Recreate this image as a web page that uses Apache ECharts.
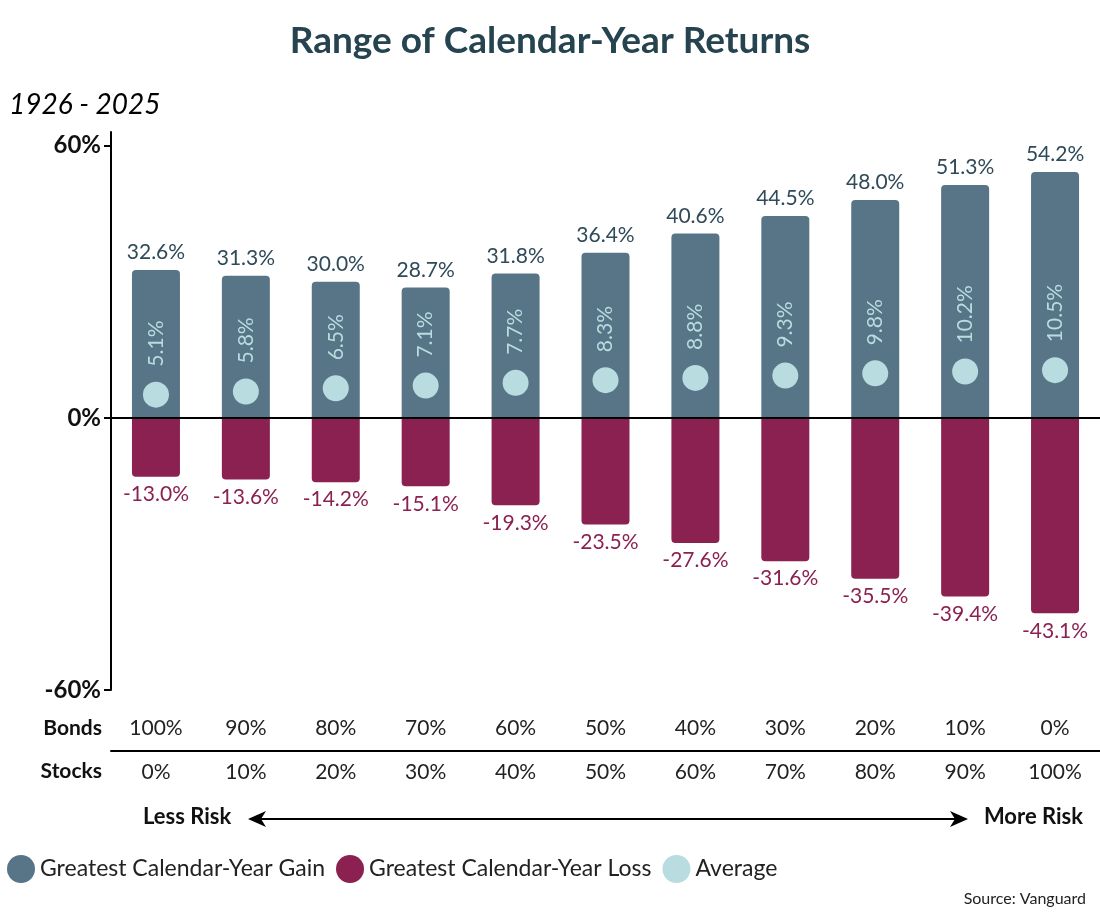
<!DOCTYPE html>
<html>
<head>
<meta charset="utf-8">
<script src="https://cdn.jsdelivr.net/npm/echarts@6/dist/echarts.min.js"></script>
<style>
  html, body { margin: 0; padding: 0; background: #fff; }
  #main { width: 1100px; height: 920px; }
</style>
</head>
<body>
<div id="main"></div>
<script>
const bonds = ['100%', '90%', '80%', '70%', '60%', '50%', '40%', '30%', '20%', '10%', '0%'];
const stocks = ['0%', '10%', '20%', '30%', '40%', '50%', '60%', '70%', '80%', '90%', '100%'];
const gain = [32.6, 31.3, 30.0, 28.7, 31.8, 36.4, 40.6, 44.5, 48.0, 51.3, 54.2];
const loss = [-13.0, -13.6, -14.2, -15.1, -19.3, -23.5, -27.6, -31.6, -35.5, -39.4, -43.1];
const average = [5.1, 5.8, 6.5, 7.1, 7.7, 8.3, 8.8, 9.3, 9.8, 10.2, 10.5];
const yTicks = [-60, 0, 60];

const font = 'Lato';
const gainColor = '#587587';
const lossColor = '#8a2150';
const avgColor = '#b8dce0';

const pct = v => v.toFixed(1) + '%';

let option = {
  backgroundColor: '#fff',
  textStyle: { fontFamily: font },
  title: [
    {
      text: 'Range of Calendar-Year Returns',
      left: 'center',
      top: 18,
      textStyle: { fontFamily: font, fontSize: 37, fontWeight: 'bold', color: '#26444f' }
    },
    {
      text: '1926 - 2025',
      left: 4,
      top: 86,
      textStyle: { fontFamily: font, fontSize: 28, fontStyle: 'italic', fontWeight: 'normal', color: '#000' }
    },
    {
      text: 'Source: Vanguard',
      right: 9,
      bottom: 8,
      textStyle: { fontFamily: font, fontSize: 16, fontWeight: 'normal', color: '#222' }
    }
  ],
  legend: {
    left: 2,
    top: 850,
    icon: 'circle',
    itemWidth: 28,
    itemHeight: 28,
    itemGap: 11,
    textStyle: { fontFamily: font, fontSize: 23, color: '#222' },
    data: ['Greatest Calendar-Year Gain', 'Greatest Calendar-Year Loss', 'Average']
  },
  grid: { left: 111, top: 132, width: 990, height: 558 },
  xAxis: [
    {
      type: 'category',
      data: bonds,
      axisLine: { onZero: true, lineStyle: { color: '#000', width: 2 } },
      axisTick: { show: false },
      axisLabel: { show: false },
      z: 5
    },
    {
      type: 'category',
      data: bonds,
      position: 'bottom',
      offset: 38,
      name: 'Bonds',
      nameLocation: 'start',
      nameGap: 9,
      nameTextStyle: { fontFamily: font, fontSize: 21, fontWeight: 'bold', color: '#111', verticalAlign: 'middle' },
      axisLine: { show: false, onZero: false },
      axisTick: { show: false },
      axisLabel: { margin: 0, verticalAlign: 'middle', fontFamily: font, fontSize: 21, color: '#222' }
    },
    {
      type: 'category',
      data: stocks,
      position: 'bottom',
      offset: 61,
      name: 'Stocks',
      nameLocation: 'start',
      nameGap: 9,
      nameTextStyle: { fontFamily: font, fontSize: 21, fontWeight: 'bold', color: '#111', verticalAlign: 'top', padding: [10, 0, 0, 0] },
      axisLine: { show: true, onZero: false, lineStyle: { color: '#000', width: 2 } },
      axisTick: { show: false },
      axisLabel: { margin: 21, verticalAlign: 'middle', fontFamily: font, fontSize: 21, color: '#222' }
    }
  ],
  yAxis: {
    type: 'value',
    min: -60,
    max: 63,
    splitLine: { show: false },
    axisLine: { show: true, lineStyle: { color: '#000', width: 2 } },
    axisTick: { show: true, length: 7, customValues: yTicks, lineStyle: { color: '#000', width: 2 } },
    axisLabel: {
      customValues: yTicks,
      margin: 10,
      formatter: v => v + '%',
      fontFamily: font,
      fontSize: 24,
      fontWeight: 'bold',
      color: '#111'
    }
  },
  series: [
    {
      name: 'Greatest Calendar-Year Gain',
      type: 'bar',
      data: gain,
      barWidth: 48,
      barGap: '-100%',
      itemStyle: { color: gainColor, borderRadius: [4, 4, 0, 0] },
      label: {
        show: true,
        position: 'top',
        distance: 7,
        formatter: p => pct(p.value),
        fontFamily: font,
        fontSize: 21,
        color: '#2f4a58'
      }
    },
    {
      name: 'Greatest Calendar-Year Loss',
      type: 'bar',
      data: loss,
      barWidth: 48,
      barGap: '-100%',
      itemStyle: { color: lossColor, borderRadius: [0, 0, 4, 4] },
      label: {
        show: true,
        position: 'bottom',
        distance: 7,
        formatter: p => pct(p.value),
        fontFamily: font,
        fontSize: 21,
        color: lossColor
      }
    },
    {
      name: 'Average',
      type: 'scatter',
      data: average,
      symbol: 'circle',
      symbolSize: 26,
      z: 10,
      itemStyle: { color: avgColor, opacity: 1 },
      label: {
        show: true,
        position: 'top',
        distance: 15,
        rotate: 90,
        align: 'left',
        verticalAlign: 'middle',
        formatter: p => pct(p.value),
        fontFamily: font,
        fontSize: 21,
        color: avgColor
      }
    }
  ],
  graphic: [
    {
      type: 'text',
      left: 143,
      top: 806,
      style: { text: 'Less Risk', font: 'bold 22px Lato', fill: '#111' }
    },
    {
      type: 'text',
      right: 17,
      top: 806,
      style: { text: 'More Risk', font: 'bold 22px Lato', fill: '#111' }
    },
    {
      type: 'line',
      shape: { x1: 256, y1: 819, x2: 958, y2: 819 },
      style: { stroke: '#000', lineWidth: 2 }
    },
    {
      type: 'polygon',
      shape: { points: [[248, 819], [266, 811], [261, 819], [266, 827]] },
      style: { fill: '#000' }
    },
    {
      type: 'polygon',
      shape: { points: [[968, 819], [950, 811], [955, 819], [950, 827]] },
      style: { fill: '#000' }
    }
  ]
};

let myChart = echarts.init(document.getElementById('main'));
myChart.setOption(option);
</script>
</body>
</html>
